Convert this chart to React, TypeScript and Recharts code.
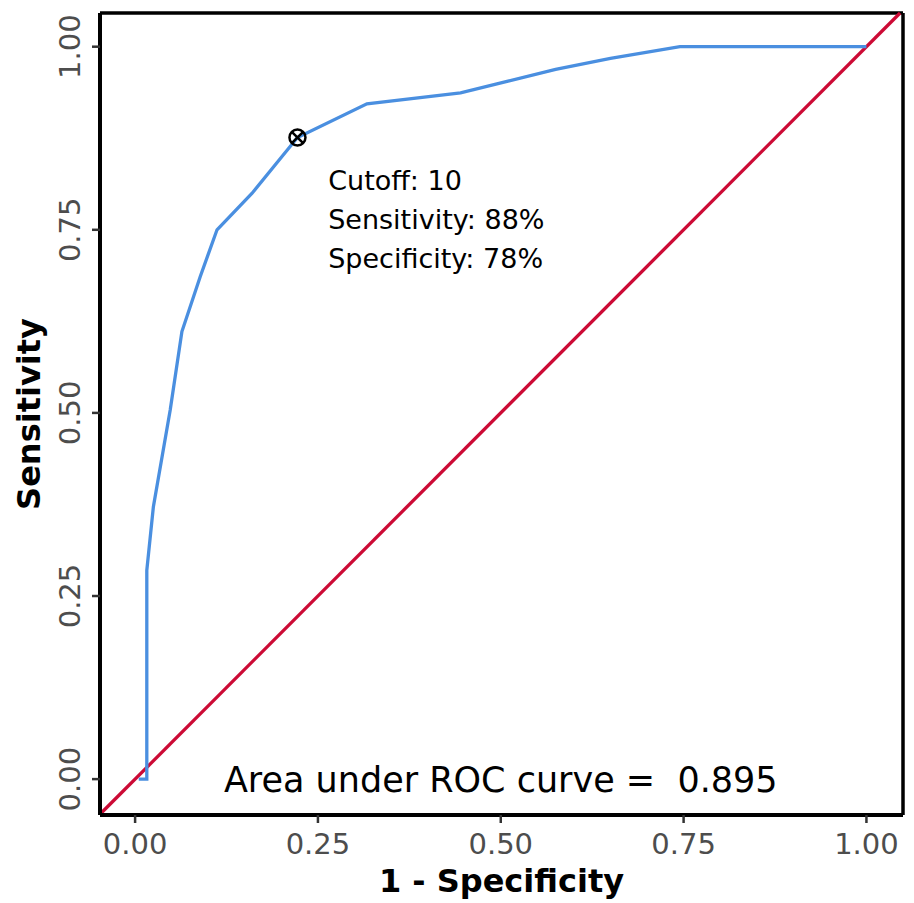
import {
  ComposedChart,
  Line,
  Scatter,
  XAxis,
  YAxis,
  ReferenceLine,
  ReferenceDot,
} from "recharts";

// ROC curve (1 - specificity, sensitivity)
const fpr = [0.005, 0.016, 0.016, 0.025, 0.048, 0.064, 0.089, 0.112, 0.16, 0.222, 0.317, 0.445, 0.51, 0.575, 0.65, 0.745, 1.0];
const tpr = [0.0, 0.0, 0.285, 0.372, 0.504, 0.611, 0.686, 0.75, 0.80, 0.876, 0.922, 0.937, 0.953, 0.969, 0.984, 1.0, 1.0];

const cutoff = { fpr: 0.222, tpr: 0.876 };
const cutoffLines = ["Cutoff: 10", "Sensitivity: 88%", "Specificity: 78%"];
const aucText = "Area under ROC curve =  0.895";

const ticks = [0, 0.25, 0.5, 0.75, 1];
const xDomain: [number, number] = [-0.048, 1.05];
const yDomain: [number, number] = [-0.049, 1.046];

const rocData = fpr.map((x, i) => ({ fpr: x, tpr: tpr[i] }));

const FONT = "DejaVu Sans";
const BLUE = "#4a8fe0";
const RED = "#cc0a35";
const TICK_GREY = "#4d4d4d";

const fmt = (v: number) => v.toFixed(2);

function YTick({ x, y, payload }: any) {
  const bx = x - 10;
  return (
    <text
      x={bx}
      y={y}
      transform={`rotate(-90 ${bx} ${y})`}
      textAnchor="middle"
      fontFamily={FONT}
      fontSize={29}
      fill={TICK_GREY}
    >
      {fmt(payload.value)}
    </text>
  );
}

function CrossCircle({ cx, cy }: any) {
  const r = 8;
  const d = r * 0.707;
  return (
    <g stroke="#000" strokeWidth={2.5} fill="none">
      <circle cx={cx} cy={cy} r={r} />
      <line x1={cx - d} y1={cy - d} x2={cx + d} y2={cy + d} />
      <line x1={cx - d} y1={cy + d} x2={cx + d} y2={cy - d} />
    </g>
  );
}

export default function App() {
  return (
    <div style={{ position: "absolute", left: 0, top: 0, background: "#fff" }}>
      <ComposedChart
        width={914}
        height={903}
        margin={{ top: 13, right: 11, left: 0, bottom: 0 }}
      >
        <XAxis
          type="number"
          dataKey="fpr"
          domain={xDomain}
          ticks={ticks}
          tickFormatter={fmt}
          allowDataOverflow
          height={88}
          stroke="#000"
          strokeWidth={4}
          tickSize={8}
          tickMargin={10}
          tickLine={{ stroke: "#333", strokeWidth: 2.5 }}
          tick={{ fontFamily: FONT, fontSize: 29, fill: TICK_GREY }}
          label={{
            value: "1 - Specificity",
            position: "insideBottom",
            offset: 11,
            fontFamily: FONT,
            fontSize: 32,
            fontWeight: "bold",
            fill: "#000",
          }}
        />
        <YAxis
          type="number"
          dataKey="tpr"
          domain={yDomain}
          ticks={ticks}
          allowDataOverflow
          width={100}
          stroke="#000"
          strokeWidth={4}
          tickSize={8}
          tickMargin={2}
          tickLine={{ stroke: "#333", strokeWidth: 2.5 }}
          tick={<YTick />}
          label={{
            content: () => (
              <text
                x={40}
                y={414}
                transform="rotate(-90 40 414)"
                textAnchor="middle"
                fontFamily={FONT}
                fontSize={32}
                fontWeight="bold"
                fill="#000"
              >
                Sensitivity
              </text>
            ),
          }}
        />
        {/* panel border */}
        <ReferenceLine y={yDomain[1]} stroke="#000" strokeWidth={3.5} />
        <ReferenceLine x={xDomain[1]} stroke="#000" strokeWidth={3.5} />
        <ReferenceLine
          segment={[
            { x: xDomain[0], y: xDomain[0] },
            { x: yDomain[1], y: yDomain[1] },
          ]}
          stroke={RED}
          strokeWidth={3.3}
        />
        <Line
          data={rocData}
          dataKey="tpr"
          type="linear"
          stroke={BLUE}
          strokeWidth={3.3}
          dot={false}
          isAnimationActive={false}
        />
        <Scatter
          data={[cutoff]}
          dataKey="tpr"
          shape={<CrossCircle />}
          isAnimationActive={false}
        />
        <ReferenceDot
          x={0.264}
          y={0.8}
          r={0}
          fill="none"
          stroke="none"
          label={{
            content: ({ viewBox }: any) => (
              <text fontFamily={FONT} fontSize={27} fill="#000">
                {cutoffLines.map((t, i) => (
                  <tspan key={t} x={viewBox.x} y={viewBox.y + (i - 1) * 39 + 36}>
                    {t}
                  </tspan>
                ))}
              </text>
            ),
          }}
        />
        <ReferenceDot
          x={0.5}
          y={0}
          r={0}
          fill="none"
          stroke="none"
          label={{
            content: ({ viewBox }: any) => (
              <text
                x={viewBox.x}
                y={viewBox.y + 13}
                textAnchor="middle"
                fontFamily={FONT}
                fontSize={35}
                fill="#000"
                xmlSpace="preserve"
                style={{ whiteSpace: "pre" }}
              >
                {aucText}
              </text>
            ),
          }}
        />
      </ComposedChart>
    </div>
  );
}
